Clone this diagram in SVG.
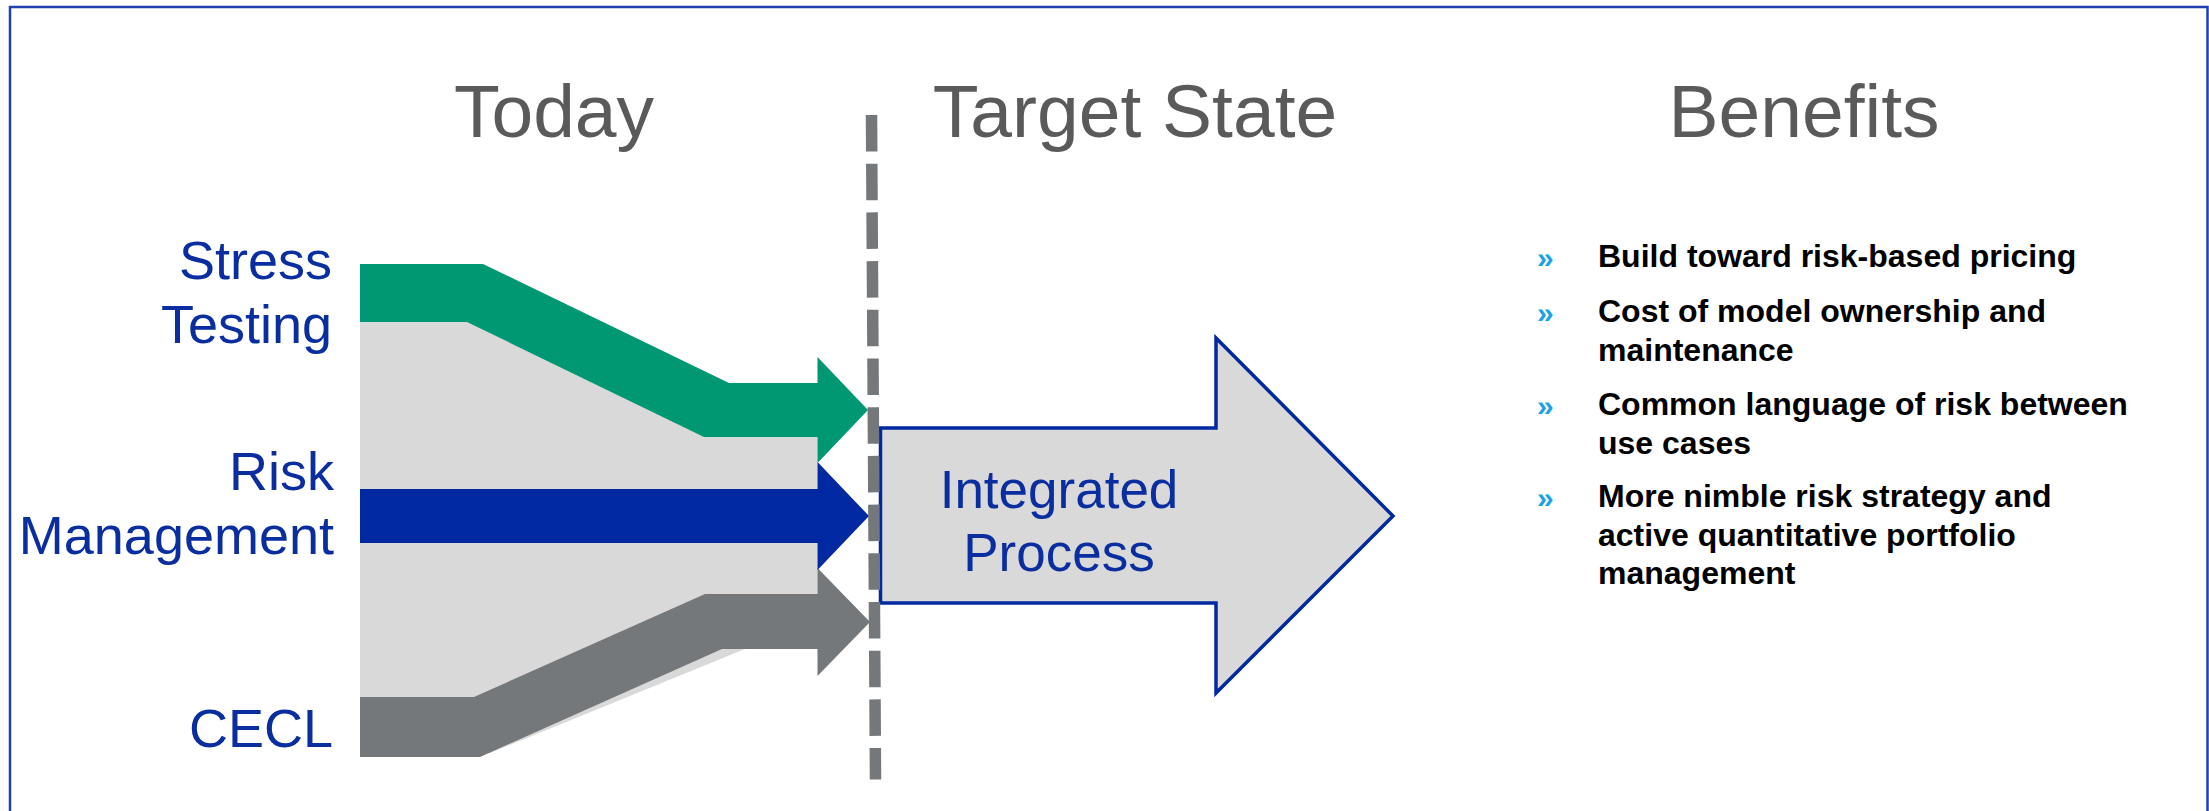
<svg xmlns="http://www.w3.org/2000/svg" width="2209" height="811" viewBox="0 0 2209 811">
  <style>
    .title { font-family: "Liberation Sans", Arial, sans-serif; font-size: 75px; fill: #5a5a5a; text-anchor: middle; }
    .label { font-family: "Liberation Sans", Arial, sans-serif; font-size: 54px; fill: #0a2d9f; text-anchor: end; }
    .center { font-family: "Liberation Sans", Arial, sans-serif; font-size: 53px; fill: #0a2d9f; text-anchor: middle; }
    .bullet { font-family: "Liberation Sans", Arial, sans-serif; font-size: 30px; font-weight: bold; fill: #1aa3e2; }
    .item { font-family: "Liberation Sans", Arial, sans-serif; font-size: 32px; font-weight: bold; fill: #000000; }
    .band-green { fill: #009873; }
    .band-blue { fill: #0028a0; }
    .band-grey { fill: #75787b; }
    .backdrop { fill: #d9d9d9; }
  </style>

  <!-- page frame (open at the bottom edge) -->
  <rect x="10" y="7" width="2197.5" height="830" fill="none" stroke="#2140b0" stroke-width="2.5"/>

  <!-- column headings -->
  <g id="headings">
    <text class="title" x="554" y="137">Today</text>
    <text class="title" x="1135" y="137">Target State</text>
    <text class="title" x="1804" y="137">Benefits</text>
  </g>

  <!-- source labels -->
  <g id="stress-testing">
    <text class="label" x="332" y="279">Stress</text>
    <text class="label" x="332" y="343">Testing</text>
  </g>
  <g id="risk-management">
    <text class="label" x="334" y="490">Risk</text>
    <text class="label" x="334" y="554">Management</text>
  </g>
  <g id="cecl">
    <text class="label" x="333" y="747">CECL</text>
  </g>

  <!-- flows from today's processes into the integrated process -->
  <g id="connectors">
    <polygon class="backdrop" points="360,318 467,318 704,433 817.5,433 817.5,600 745,649 490,753 360,753"/>
    <polygon class="band-grey" points="360,697 474,697 705,594 817.5,594 817.5,568 870,622 817.5,676 817.5,649 722,649 480,757 360,757"/>
    <polygon class="band-blue" points="360,489 817.5,489 817.5,462 869,516 817.5,570 817.5,543 360,543"/>
    <polygon class="band-green" points="360,264 483,264 729,383 817.5,383 817.5,357 868,410 817.5,463 817.5,437 704,437 467,322 360,322"/>
  </g>

  <!-- target state -->
  <g id="integrated-process">
    <polygon points="880.5,428 1216,428 1216,338 1393,516 1216,693 1216,603 880.5,603" fill="#d9d9d9" stroke="#0028a0" stroke-width="3.5"/>
    <text class="center" x="1059" y="508">Integrated</text>
    <text class="center" x="1059" y="571">Process</text>
  </g>

  <!-- divider between today and target state -->
  <g id="divider">
    <line x1="871.5" y1="115" x2="875.5" y2="779.5" stroke="#75787b" stroke-width="11.5" stroke-dasharray="36.5 12.2"/>
  </g>

  <!-- benefits list -->
  <g id="benefits">
    <text class="bullet" x="1537" y="268">»</text>
    <text class="bullet" x="1537" y="323">»</text>
    <text class="bullet" x="1537" y="416">»</text>
    <text class="bullet" x="1537" y="508">»</text>
    <text class="item" x="1598" y="267">Build toward risk-based pricing</text>
    <text class="item" x="1598" y="322">Cost of model ownership and</text>
    <text class="item" x="1598" y="360.5">maintenance</text>
    <text class="item" x="1598" y="415">Common language of risk between</text>
    <text class="item" x="1598" y="453.5">use cases</text>
    <text class="item" x="1598" y="507">More nimble risk strategy and</text>
    <text class="item" x="1598" y="545.5">active quantitative portfolio</text>
    <text class="item" x="1598" y="584">management</text>
  </g>
</svg>
